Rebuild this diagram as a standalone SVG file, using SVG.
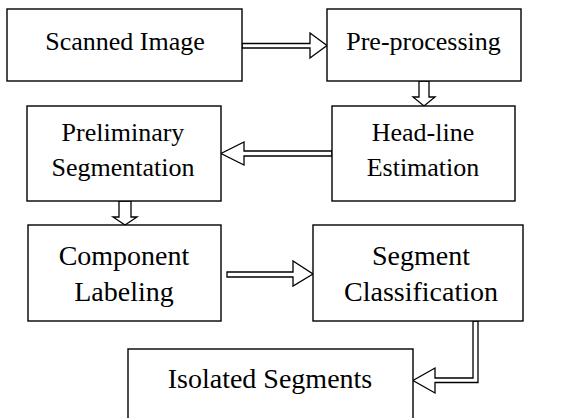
<svg xmlns="http://www.w3.org/2000/svg" width="587" height="418" viewBox="0 0 587 418">
<style>
.box{fill:#fff;stroke:#000;stroke-width:1.4}
.t{fill:#000;text-anchor:middle}
.s26{font-size:26px}
.s28{font-size:28px}
.arr{fill:#fff;stroke:#000;stroke-width:1.3;stroke-linejoin:miter}
</style>
<rect width="587" height="418" fill="#fff"/>
<g id="connectors">
<path class="arr" d="M242,43.5 L310,43.5 L310,33 L327,45.5 L310,58 L310,48 L242,48 Z"/>
<path class="arr" d="M419,81 L419,97 L413,97 L424,106 L435,97 L429,97 L429,81 Z"/>
<path class="arr" d="M332,151 L244,151 L244,142 L221,153.5 L244,165 L244,156 L332,156 Z"/>
<path class="arr" d="M119,201 L119,217 L113,217 L125,225 L137,217 L131,217 L131,201 Z"/>
<path class="arr" d="M227,272 L293,272 L293,261 L313,274 L293,286 L293,277 L227,277 Z"/>
<path class="arr" d="M473,321 L473,378 L435,378 L435,368 L413,380.5 L435,393 L435,382.5 L478,382.5 L478,321 Z"/>
</g>
<g font-family="'Liberation Serif', 'Times New Roman', Times, serif">
<g id="n1"><rect class="box" x="7" y="9" width="235" height="72"/><text class="t s26" x="125" y="50">Scanned Image</text></g>
<g id="n2"><rect class="box" x="327" y="9" width="194" height="72"/><text class="t s26" x="423.5" y="50">Pre-processing</text></g>
<g id="n3"><rect class="box" x="27" y="106" width="194" height="95"/><text class="t s26" x="123" y="141">Preliminary</text><text class="t s26" x="123" y="176">Segmentation</text></g>
<g id="n4"><rect class="box" x="332" y="106" width="183" height="95"/><text class="t s26" x="423" y="141">Head-line</text><text class="t s26" x="423" y="176">Estimation</text></g>
<g id="n5"><rect class="box" x="28" y="225" width="193" height="96"/><text class="t s28" x="124" y="265">Component</text><text class="t s28" x="124" y="301">Labeling</text></g>
<g id="n6"><rect class="box" x="313" y="225" width="210" height="96"/><text class="t s28" x="421" y="265">Segment</text><text class="t s28" x="421" y="301">Classification</text></g>
<g id="n7"><rect class="box" x="128" y="349" width="285" height="75"/><text class="t s28" x="270" y="388">Isolated Segments</text></g>
</g>
</svg>
